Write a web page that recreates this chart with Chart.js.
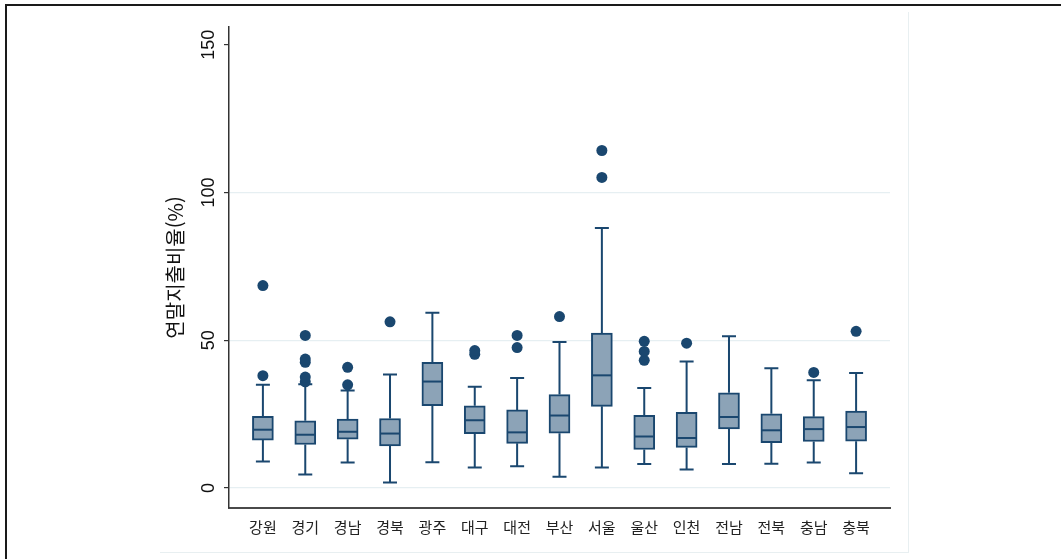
<!DOCTYPE html>
<html lang="ko">
<head>
<meta charset="utf-8">
<title>연말지출비율 상자그림</title>
<script src="https://cdn.jsdelivr.net/npm/chart.js@4.4.1/dist/chart.umd.min.js"></script>
<style>
    html, body { margin: 0; padding: 0; background: #fff; }
    #wrap { position: relative; width: 1061px; height: 559px; overflow: hidden; }
    #frame { position: absolute; left: 5px; top: 4px; right: -10px; bottom: -10px;
             border-top: 2px solid #1a1a1a; border-left: 2px solid #1a1a1a; }
    #region { position: absolute; left: 160px; top: 12px; width: 748px; height: 540px;
              border-right: 1px solid #e8eff1; border-bottom: 1px solid #e8eff1; }
    canvas { position: absolute; left: 0; top: 0; }
</style>
</head>
<body>
<div id="wrap">
    <div id="frame"></div>
    <div id="region"></div>
    <canvas id="chart" width="1061" height="559"></canvas>
</div>
<script>
// 지역별 연말지출비율 (%) - 상자그림 값
const regions = ['강원', '경기', '경남', '경북', '광주', '대구', '대전', '부산', '서울', '울산', '인천', '전남', '전북', '충남', '충북'];
const whiskerLow = [8.9, 4.5, 8.6, 1.8, 8.7, 6.9, 7.3, 3.8, 6.9, 8.1, 6.2, 8.1, 8.2, 8.6, 5.0];
const q1 = [16.2, 14.7, 16.5, 14.2, 27.8, 18.4, 15.1, 18.5, 27.6, 13.0, 13.7, 20.0, 15.3, 15.7, 15.8];
const median = [19.7, 18.0, 19.0, 18.4, 36.0, 22.9, 18.8, 24.5, 38.1, 17.4, 16.9, 24.0, 19.5, 19.9, 20.6];
const q3 = [24.2, 22.7, 23.3, 23.5, 42.5, 27.8, 26.4, 31.6, 52.4, 24.6, 25.6, 32.2, 25.1, 24.1, 26.0];
const whiskerHigh = [34.9, 35.1, 33.0, 38.4, 59.3, 34.2, 37.2, 49.4, 88.0, 33.8, 42.8, 51.3, 40.5, 36.4, 38.9];
const outliers = [
    [38.0, 68.5],
    [35.9, 37.5, 42.5, 43.6, 51.6],
    [34.9, 40.8],
    [56.2],
    [],
    [45.2, 46.5],
    [47.5, 51.6],
    [58.0],
    [105.1, 114.2],
    [43.2, 46.2, 49.6],
    [49.0],
    [],
    [],
    [39.1],
    [53.0]
];
const yTicks = [0, 50, 100, 150];

const NAVY = '#1a476f';
const BOX_FILL = '#8ca3b7';

const boxData = regions.map((r, i) => ({ x: i, y: [q1[i], q3[i]] }));
const outlierData = [];
outliers.forEach((list, i) => list.forEach(v => outlierData.push({ x: i, y: v })));

// whiskers, caps and medians
const boxPlotLines = {
    id: 'boxPlotLines',
    beforeDatasetsDraw(chart) {
        const { ctx, scales: { x, y } } = chart;
        ctx.save();
        ctx.strokeStyle = NAVY;
        ctx.lineWidth = 2;
        regions.forEach((r, i) => {
            const px = x.getPixelForValue(i);
            ctx.beginPath();
            ctx.moveTo(px, y.getPixelForValue(q3[i]));
            ctx.lineTo(px, y.getPixelForValue(whiskerHigh[i]));
            ctx.moveTo(px, y.getPixelForValue(q1[i]));
            ctx.lineTo(px, y.getPixelForValue(whiskerLow[i]));
            ctx.moveTo(px - 7, y.getPixelForValue(whiskerHigh[i]));
            ctx.lineTo(px + 7, y.getPixelForValue(whiskerHigh[i]));
            ctx.moveTo(px - 7, y.getPixelForValue(whiskerLow[i]));
            ctx.lineTo(px + 7, y.getPixelForValue(whiskerLow[i]));
            ctx.stroke();
        });
        ctx.restore();
    },
    afterDatasetDraw(chart, args) {
        if (args.index !== 0) return;
        const { ctx, scales: { x, y } } = chart;
        ctx.save();
        ctx.strokeStyle = NAVY;
        ctx.lineWidth = 2;
        regions.forEach((r, i) => {
            const px = x.getPixelForValue(i);
            const py = y.getPixelForValue(median[i]);
            ctx.beginPath();
            ctx.moveTo(px - 9.5, py);
            ctx.lineTo(px + 9.5, py);
            ctx.stroke();
        });
        ctx.restore();
    },
    afterDraw(chart) {
        // rotated y tick labels, Stata style
        const { ctx, scales: { y } } = chart;
        ctx.save();
        ctx.fillStyle = '#111';
        ctx.font = '18px "Liberation Sans", Arial, sans-serif';
        ctx.textAlign = 'center';
        ctx.textBaseline = 'middle';
        yTicks.forEach(v => {
            ctx.save();
            ctx.translate(209, y.getPixelForValue(v));
            ctx.rotate(-Math.PI / 2);
            ctx.fillText(String(v), 0, 0);
            ctx.restore();
        });
        ctx.restore();
    }
};

new Chart(document.getElementById('chart'), {
    type: 'bar',
    data: {
        datasets: [{
            type: 'bar',
            data: boxData,
            backgroundColor: BOX_FILL,
            borderColor: NAVY,
            borderWidth: 2,
            borderSkipped: false,
            barThickness: 21
        }, {
            type: 'scatter',
            data: outlierData,
            backgroundColor: NAVY,
            borderWidth: 0,
            pointRadius: 5.5,
            pointHoverRadius: 5.5
        }]
    },
    options: {
        responsive: false,
        devicePixelRatio: 1,
        animation: false,
        layout: { padding: { left: 160, right: 171, top: 27, bottom: 0 } },
        plugins: {
            legend: { display: false },
            tooltip: { enabled: false }
        },
        scales: {
            x: {
                type: 'linear',
                offset: false,
                min: -0.8,
                max: 14.8,
                afterBuildTicks(scale) {
                    scale.ticks = regions.map((r, i) => ({ value: i }));
                },
                afterFit(scale) { scale.height = 51; },
                grid: { display: false, drawTicks: false },
                border: { display: true, color: '#4a4a4a', width: 2 },
                ticks: {
                    autoSkip: false,
                    maxRotation: 0,
                    padding: 10,
                    color: '#222',
                    font: { family: '"Noto Sans CJK KR", sans-serif', size: 15 },
                    callback: (v) => regions[v]
                }
            },
            y: {
                min: -6.8,
                max: 156,
                afterBuildTicks(scale) {
                    scale.ticks = yTicks.map(v => ({ value: v }));
                },
                afterFit(scale) { scale.width = 69; },
                grid: {
                    color: (c) => c.tick && c.tick.value === 150 ? 'rgba(0,0,0,0)' : '#e6eff2',
                    lineWidth: 1.2,
                    tickColor: '#333',
                    tickLength: 5
                },
                border: { display: true, color: '#333', width: 1.5 },
                ticks: { display: false },
                title: {
                    display: true,
                    text: '연말지출비율(%)',
                    color: '#111',
                    padding: { top: 3, bottom: 4 },
                    font: { family: '"Noto Sans CJK KR", sans-serif', size: 20 }
                }
            }
        }
    },
    plugins: [boxPlotLines]
});
</script>
</body>
</html>
